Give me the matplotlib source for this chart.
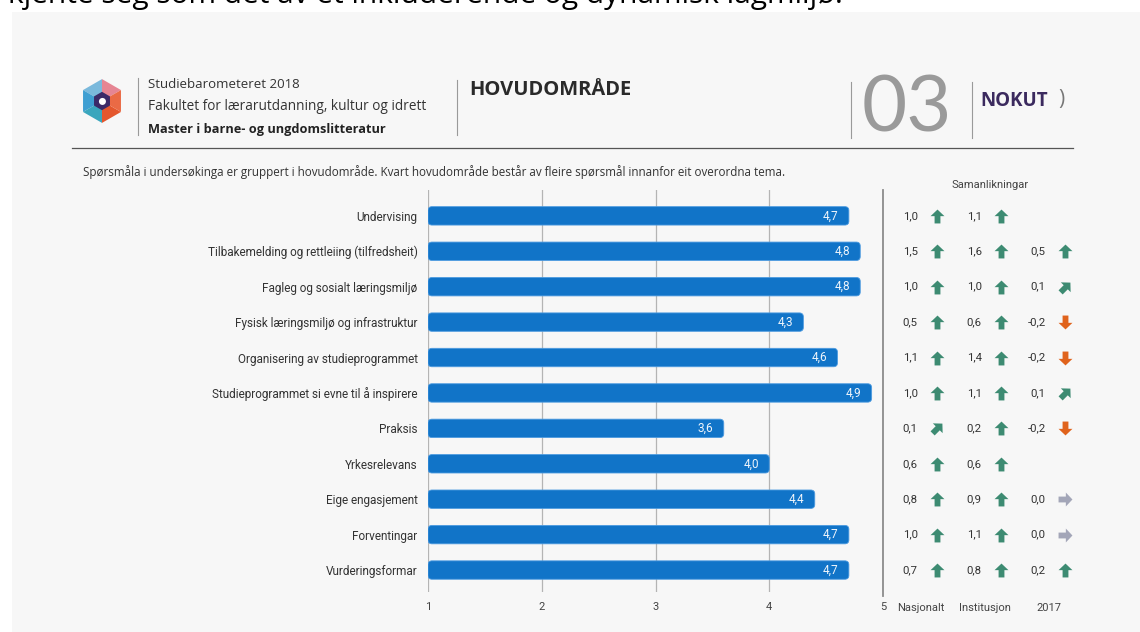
import numpy as np
import matplotlib
matplotlib.use("Agg")
import matplotlib.pyplot as plt
from matplotlib.patches import Rectangle, FancyBboxPatch, Polygon, Circle, RegularPolygon
from matplotlib.path import Path
from matplotlib.transforms import blended_transform_factory, Affine2D

# ---------------- data ----------------
categories = [
    "Undervising",
    "Tilbakemelding og rettleiing (tilfredsheit)",
    "Fagleg og sosialt læringsmiljø",
    "Fysisk læringsmiljø og infrastruktur",
    "Organisering av studieprogrammet",
    "Studieprogrammet si evne til å inspirere",
    "Praksis",
    "Yrkesrelevans",
    "Eige engasjement",
    "Forventingar",
    "Vurderingsformar",
]
values = [4.7, 4.8, 4.8, 4.3, 4.6, 4.9, 3.6, 4.0, 4.4, 4.7, 4.7]
nasjonalt = [1.0, 1.5, 1.0, 0.5, 1.1, 1.0, 0.1, 0.6, 0.8, 1.0, 0.7]
institusjon = [1.1, 1.6, 1.0, 0.6, 1.4, 1.1, 0.2, 0.6, 0.9, 1.1, 0.8]
diff_2017 = [None, 0.5, 0.1, -0.2, -0.2, 0.1, -0.2, None, 0.0, 0.0, 0.2]
comp_labels = ["Nasjonalt", "Institusjon", "2017"]
x_ticks = [1, 2, 3, 4, 5]

# ---------------- style ----------------
W, H = 1140, 632
BAR_C = "#1174c8"
GREEN = "#3d8b72"
ORANGE = "#e0631c"
GREYA = "#a3a6b8"
TXT = "#333333"
FONT = ["Roboto", "DejaVu Sans"]
HFONT = ["Open Sans", "DejaVu Sans"]


def fx(x):
    return x / W


def fy(y):
    return 1 - y / H


def fmt(v):
    return f"{v:.1f}".replace(".", ",")


fig = plt.figure(figsize=(W / 100, H / 100), dpi=100)
fig.patch.set_facecolor("white")
bg = Rectangle((fx(12), 0), 1 - fx(12), fy(12), transform=fig.transFigure,
               facecolor="#f7f7f7", edgecolor="none", zorder=-10)
fig.add_artist(bg)

# cut-off text from the page above (cut in the reference too)
fig.text(fx(8), fy(3), "kjente seg som det av et inkluderende og dynamisk lagmiljø.",
         fontsize=21.5, family=HFONT, color="black", va="baseline", ha="left")

# ---------------- header ----------------
lax = fig.add_axes([fx(79), fy(124), fx(46), 46 / H])
lax.set_xlim(-1.05, 1.05)
lax.set_ylim(-1.05, 1.05)
lax.set_aspect("equal")
lax.axis("off")
face_cols = ["#e68593", "#7ab9dc", "#3f9fd2", "#3aa6bd", "#e4572d", "#ea6a45"]
angles = [30, 90, 150, 210, 270, 330, 390]
for k in range(6):
    a1, a2 = np.radians(angles[k]), np.radians(angles[k + 1])
    lax.add_patch(Polygon([(0, 0), (np.cos(a1), np.sin(a1)), (np.cos(a2), np.sin(a2))],
                          closed=True, facecolor=face_cols[k], edgecolor="none"))
lax.add_patch(RegularPolygon((0, 0), 6, radius=0.42, facecolor="#3b2a68", edgecolor="none"))
lax.add_patch(Circle((0.02, -0.02), 0.16, facecolor="white", edgecolor="none"))

line_c = "#9a9a9a"
for (x, y0, y1) in [(138, 78, 135), (457, 80, 135), (851, 82, 138), (972, 82, 138)]:
    fig.add_artist(plt.Line2D([fx(x), fx(x)], [fy(y0), fy(y1)], color=line_c, lw=0.8))
fig.add_artist(plt.Line2D([fx(72), fx(1073)], [fy(148), fy(148)], color="#555555", lw=0.9))

fig.text(fx(148), fy(85), "Studiebarometeret 2018", fontsize=9.5, family=HFONT, color=TXT, va="center")
fig.text(fx(148), fy(107), "Fakultet for lærarutdanning, kultur og idrett", fontsize=9.8,
         family=HFONT, color=TXT, va="center")
fig.text(fx(148), fy(130), "Master i barne- og ungdomslitteratur", fontsize=9.2, family=HFONT,
         fontweight="bold", color="#222222", va="center")
fig.text(fx(469), fy(90), "HOVUDOMRÅDE", fontsize=14.5, family=HFONT, fontweight="bold",
         color="#2a2a2a", va="center")
fig.text(fx(862), fy(110), "03", fontsize=56, family=["Lato", "DejaVu Sans"], fontweight="normal",
         color="#9a9a9a", va="center")
fig.text(fx(980), fy(101), "NOKUT", fontsize=13.5, family=HFONT, fontweight="bold",
         color="#3b2a5e", va="center")
fig.text(fx(1058), fy(100), ")", fontsize=15, family=HFONT, color="#777777", va="center")

fig.text(fx(83), fy(172), "Spørsmåla i undersøkinga er gruppert i hovudområde. Kvart hovudområde består av "
         "fleire spørsmål innanfor eit overordna tema.", fontsize=8.4, family=HFONT, color=TXT, va="center")

# ---------------- main bar chart ----------------
top_px, bot_px = 190, 592
ax = fig.add_axes([fx(428), fy(bot_px), fx(883) - fx(428), (bot_px - top_px) / H])
ax.set_facecolor("none")
n = len(categories)
ypos = np.arange(n)
ax.set_xlim(1, 5)
ax.set_ylim(n - 1 + 0.62, -0.73)
bars = ax.barh(ypos, np.array(values) - 1, left=1, height=0.52, color=BAR_C, zorder=3)
aspect = (1 / 35.4) / (1 / 113.75)
for b in bars:
    b.set_visible(False)
    fb = FancyBboxPatch((b.get_x(), b.get_y()), b.get_width(), b.get_height(),
                        boxstyle="round,pad=0,rounding_size=0.035", mutation_aspect=aspect,
                        facecolor=BAR_C, edgecolor="#4d9be0", lw=0.6, zorder=3)
    ax.add_patch(fb)
for i, v in enumerate(values):
    ax.text(v - 0.09, i, fmt(v), ha="right", va="center", color="#eef4fb", fontsize=8.5,
            family=FONT, zorder=4)

ax.set_xticks(x_ticks)
ax.set_xticklabels([str(t) for t in x_ticks])
ax.xaxis.grid(True, color="#b4b4b4", lw=0.9, zorder=0)
ax.set_axisbelow(True)
ax.set_yticks(ypos)
ax.set_yticklabels(categories)
for s in ax.spines.values():
    s.set_visible(False)
ax.tick_params(axis="x", length=0, pad=7, labelsize=8, labelcolor="#444444")
ax.tick_params(axis="y", length=0, pad=7.5, labelsize=8.5, labelcolor=TXT)
for lab in ax.get_xticklabels() + ax.get_yticklabels():
    lab.set_family(FONT)
ax.axvline(5, ymin=-0.01, ymax=1.0, color="#8c8c8c", lw=1.3, clip_on=False, zorder=1)

# ---------------- comparisons ----------------
cax = fig.add_axes([fx(889), fy(bot_px), 192 / W, (bot_px - top_px) / H])
cax.set_xlim(0, 3)
cax.set_ylim(ax.get_ylim())
cax.axis("off")

arrow_up = Path([(0, 1.0), (1.0, 0.05), (0.42, 0.05), (0.42, -1.0), (-0.42, -1.0),
                 (-0.42, 0.05), (-1.0, 0.05), (0, 1.0)],
                [Path.MOVETO] + [Path.LINETO] * 6 + [Path.CLOSEPOLY])


def arrow_marker(v):
    if v >= 0.2:
        ang, col = 0, GREEN
    elif v > 0.05:
        ang, col = -45, GREEN
    elif v > -0.05:
        ang, col = -90, GREYA
    elif v > -0.15:
        ang, col = -135, ORANGE
    else:
        ang, col = 180, ORANGE
    return arrow_up.transformed(Affine2D().rotate_deg(ang)), col


series = [nasjonalt, institusjon, diff_2017]
for c, ser in enumerate(series):
    for i, v in enumerate(ser):
        if v is None:
            continue
        cax.text(c + 0.45, i, fmt(v), ha="right", va="center", fontsize=8.2, family=FONT, color=TXT)
        mk, col = arrow_marker(v)
        cax.plot([c + 0.75], [i], marker=mk, markersize=10, color=col, markeredgewidth=0,
                 linestyle="none")

btr = blended_transform_factory(cax.transData, cax.transAxes)
for c, lab in enumerate(comp_labels):
    cax.text(c + 0.5, -(608 - bot_px) / (bot_px - top_px), lab, transform=btr, ha="center",
             va="center", fontsize=8, family=FONT, color="#444444")
fig.text(fx(990), fy(185), "Samanlikningar", fontsize=8, family=FONT, color="#444444",
         ha="center", va="center")

fig.savefig("out.png", dpi=100, facecolor=fig.get_facecolor())
